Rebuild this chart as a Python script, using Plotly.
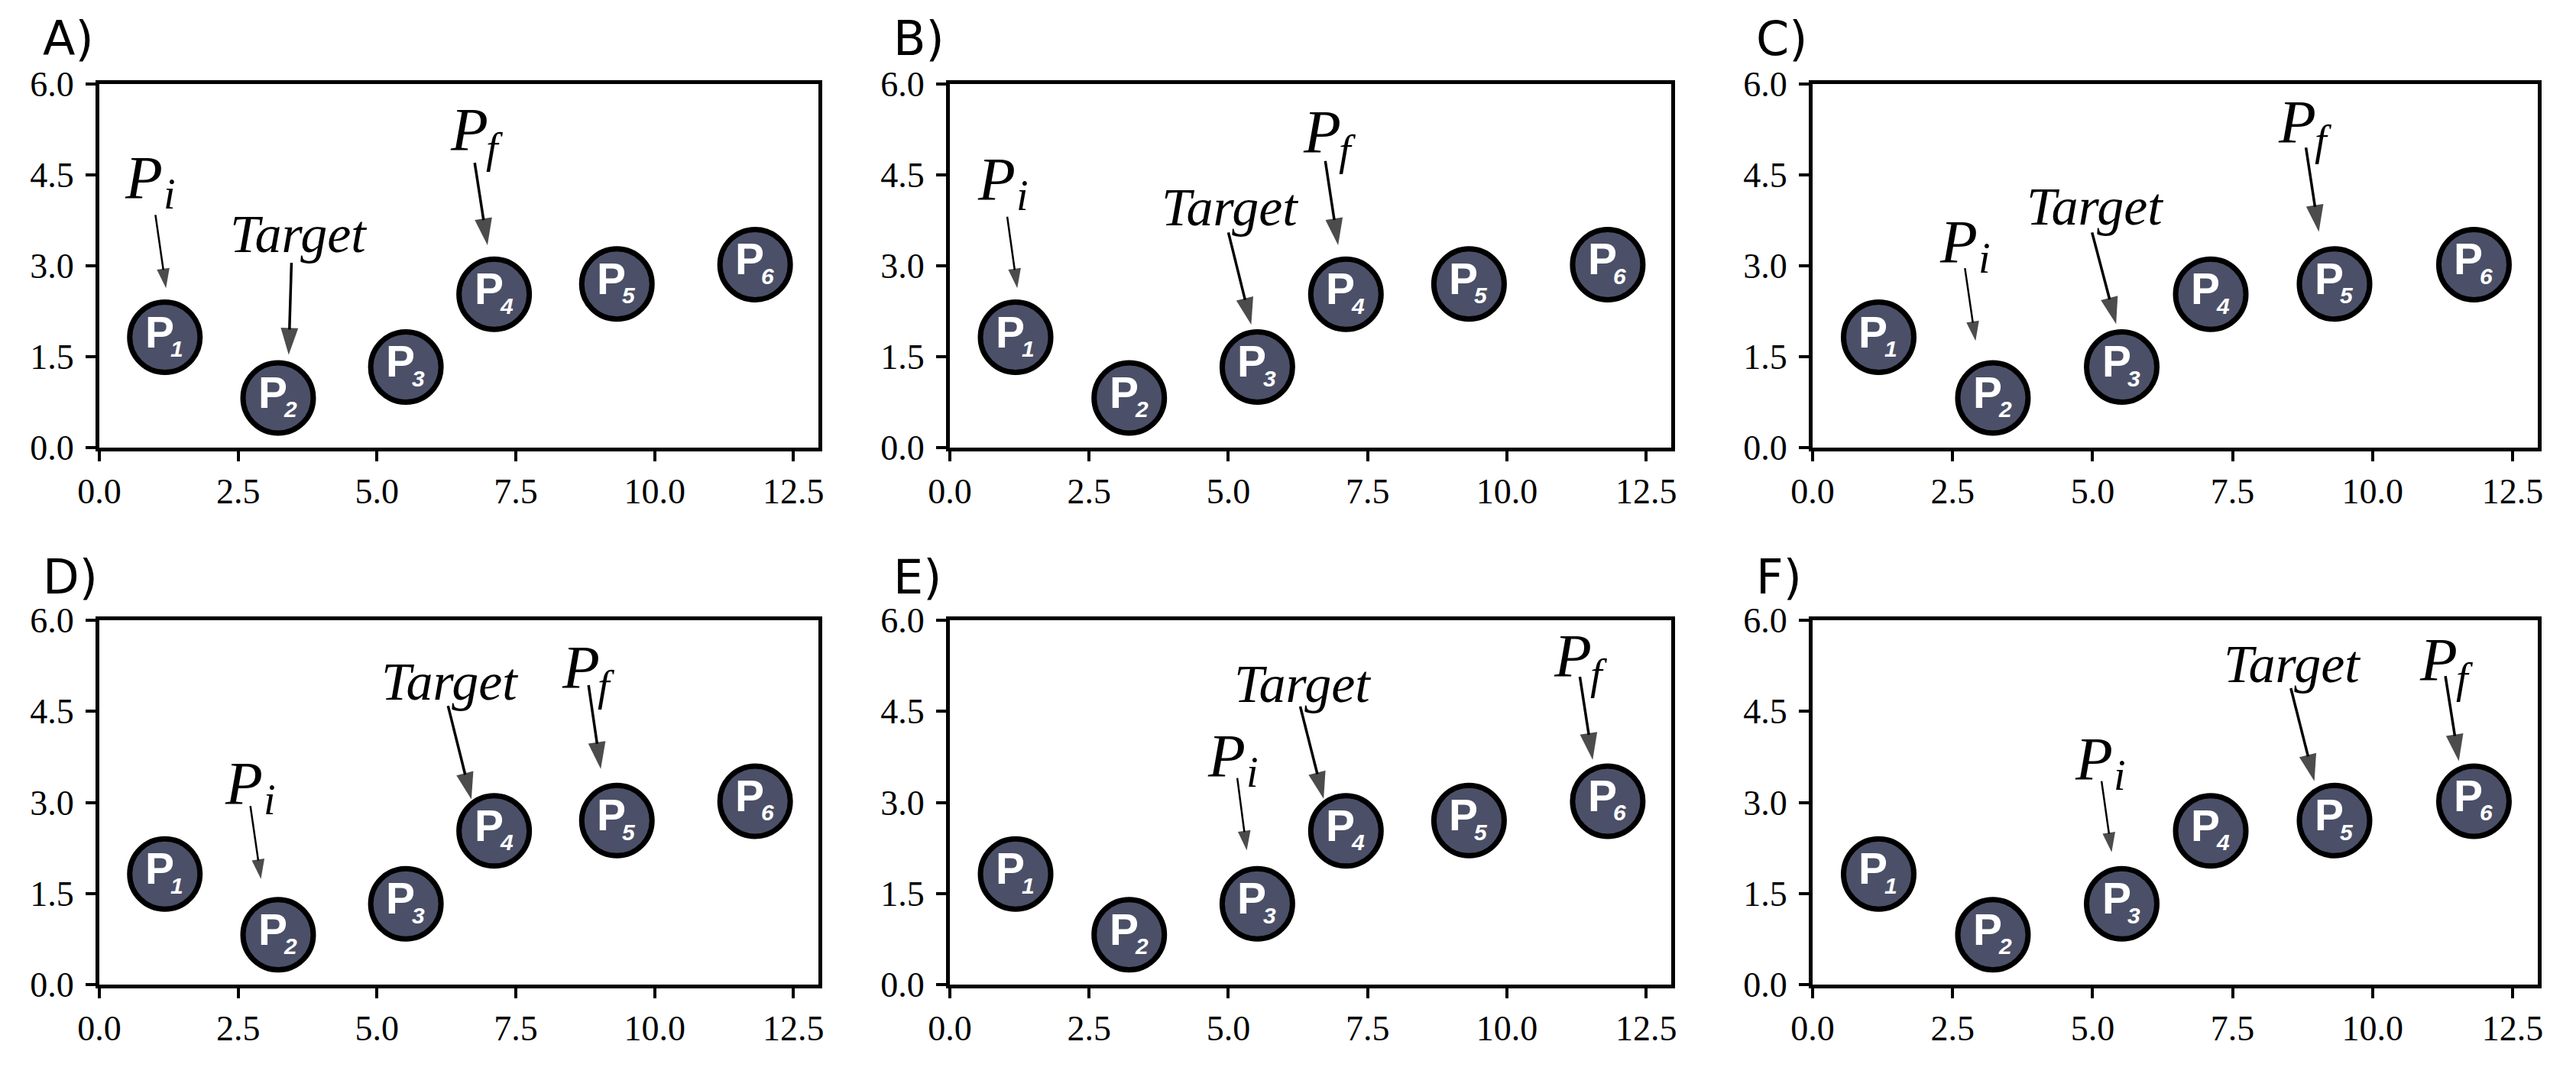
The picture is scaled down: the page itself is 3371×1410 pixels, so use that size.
import plotly.graph_objects as go

W, H = 3371, 1410

# ---- data ----
point_x = [1.18, 3.22, 5.52, 7.11, 9.32, 11.81]
point_y = [1.82, 0.82, 1.33, 2.53, 2.70, 3.02]
point_ids = ["1", "2", "3", "4", "5", "6"]

panel_letters = ["A)", "B)", "C)", "D)", "E)", "F)"]

x_ticks = [0.0, 2.5, 5.0, 7.5, 10.0, 12.5]
y_ticks = [0.0, 1.5, 3.0, 4.5, 6.0]

# label text centre, arrow tail, arrow head (data units), one entry per panel
pi_text = [(0.87, 4.36), (0.91, 4.34), (2.67, 3.30), (2.67, 3.22), (5.04, 3.67), (5.09, 3.62)]
pi_tail = [(1.01, 3.84), (1.03, 3.81), (2.72, 2.96), (2.72, 2.94), (5.16, 3.40), (5.16, 3.35)]
pi_head = [(1.20, 2.63), (1.21, 2.63), (2.91, 1.76), (2.91, 1.74), (5.33, 2.21), (5.34, 2.18)]

tg_text = [(3.58, 3.52), (5.03, 3.97), (5.04, 3.98), (6.31, 4.99), (6.33, 4.95), (8.56, 5.28)]
tg_tail = [(3.46, 3.05), (5.00, 3.55), (4.99, 3.55), (6.28, 4.59), (6.29, 4.58), (8.54, 4.88)]
tg_head = [(3.41, 1.53), (5.41, 2.03), (5.42, 2.04), (6.70, 3.05), (6.71, 3.06), (8.96, 3.35)]

pf_text = [(6.78, 5.25), (6.80, 5.20), (8.78, 5.37), (8.79, 5.22), (11.31, 5.41), (11.30, 5.34)]
pf_tail = [(6.76, 4.70), (6.74, 4.73), (8.81, 4.95), (8.81, 4.93), (11.31, 5.07), (11.30, 5.08)]
pf_head = [(6.99, 3.34), (6.97, 3.34), (9.04, 3.56), (9.03, 3.55), (11.54, 3.70), (11.54, 3.68)]

# ---- layout geometry (pixels on the page) ----
col_px = [(130, 1071), (1243, 2187), (2372, 3321)]
row_px = [(110, 586), (812, 1289)]
label_y_px = [50, 755]
PAGE_OFFSET = 8  # default body margin of the html page

CIRCLE_FILL = "#4b5068"
SERIF = "Liberation Serif, DejaVu Serif, serif"
SANS = "DejaVu Sans, sans-serif"
ARIAL = "Liberation Sans, Arial, sans-serif"


def fx(p):
    return (p - PAGE_OFFSET) / W


def fy(p):
    return 1 - (p - PAGE_OFFSET) / H


fig = go.Figure()
layout = dict(
    width=W, height=H, autosize=False,
    margin=dict(l=0, r=0, t=0, b=0, pad=0, autoexpand=False),
    paper_bgcolor="white", plot_bgcolor="white",
    showlegend=False,
)
annotations = []


def txt(x, y, xa, ya, s, family, size, color="black", dx=0, dy=0):
    return dict(
        x=x, y=y, xref=xa, yref=ya, text=s, showarrow=False,
        xanchor="center", yanchor="middle", xshift=dx, yshift=dy,
        font=dict(family=family, size=size, color=color),
    )


for k in range(6):
    r, c = divmod(k, 3)
    ax_id = "" if k == 0 else str(k + 1)
    xa, ya = "x" + ax_id, "y" + ax_id
    l, rr = col_px[c]
    t, b = row_px[r]
    axis_common = dict(
        showline=True, linecolor="black", linewidth=5, mirror=True,
        ticks="outside", ticklen=13, tickwidth=4, tickcolor="black",
        showgrid=False, zeroline=False, automargin=False,
        tickfont=dict(family=SERIF, size=46, color="black"),
        tickformat=".1f", fixedrange=True,
    )
    layout["xaxis" + ax_id] = dict(
        axis_common, domain=[fx(l), fx(rr)], range=[0, 12.95],
        tickvals=x_ticks, anchor=ya,
    )
    layout["yaxis" + ax_id] = dict(
        axis_common, domain=[fy(b), fy(t)], range=[0, 6],
        tickvals=y_ticks, anchor=xa, ticklabelstandoff=6,
    )

    # arrows
    for tail, head, lw, hs in (
        (pi_tail[k], pi_head[k], 2.5, 27),
        (tg_tail[k], tg_head[k], 3.5, 37),
        (pf_tail[k], pf_head[k], 3.5, 37),
    ):
        fig.add_trace(go.Scatter(
            x=[tail[0], head[0]], y=[tail[1], head[1]],
            mode="lines+markers", xaxis=xa, yaxis=ya,
            line=dict(color="black", width=lw),
            marker=dict(symbol="arrow", size=[0, hs], angleref="previous",
                        color="black", line=dict(width=0)),
            hoverinfo="skip",
        ))

    # circles
    fig.add_trace(go.Scatter(
        x=point_x, y=point_y, mode="markers", xaxis=xa, yaxis=ya,
        marker=dict(size=92, color=CIRCLE_FILL, line=dict(color="black", width=7)),
        hoverinfo="skip", cliponaxis=False,
    ))
    for px, py, pid in zip(point_x, point_y, point_ids):
        annotations.append(txt(px, py, xa, ya, "<b>P</b>", ARIAL, 57, "white", dx=-7, dy=7))
        annotations.append(txt(px, py, xa, ya, "<b><i>%s</i></b>" % pid, ARIAL, 30, "white", dx=16, dy=-15))

    # labels
    annotations.append(txt(pi_text[k][0], pi_text[k][1], xa, ya, "<i>P</i>", SERIF, 80, dx=-5, dy=7))
    annotations.append(txt(pi_text[k][0], pi_text[k][1], xa, ya, "<i>i</i>", SERIF, 56, dx=29, dy=-14))
    annotations.append(txt(tg_text[k][0], tg_text[k][1], xa, ya, "<i>Target</i>", SERIF, 70))
    annotations.append(txt(pf_text[k][0], pf_text[k][1], xa, ya, "<i>P</i>", SERIF, 80, dx=-9, dy=0))
    annotations.append(txt(pf_text[k][0], pf_text[k][1], xa, ya, "<i>f</i>", SERIF, 56, dx=25, dy=-24))

    annotations.append(dict(
        x=fx(l - 76), y=fy(label_y_px[r]), xref="paper", yref="paper",
        text=panel_letters[k], showarrow=False, xanchor="left", yanchor="middle",
        font=dict(family=SANS, size=62, color="black"),
    ))

layout["annotations"] = annotations
fig.update_layout(**layout)
fig.write_html("out.html")
